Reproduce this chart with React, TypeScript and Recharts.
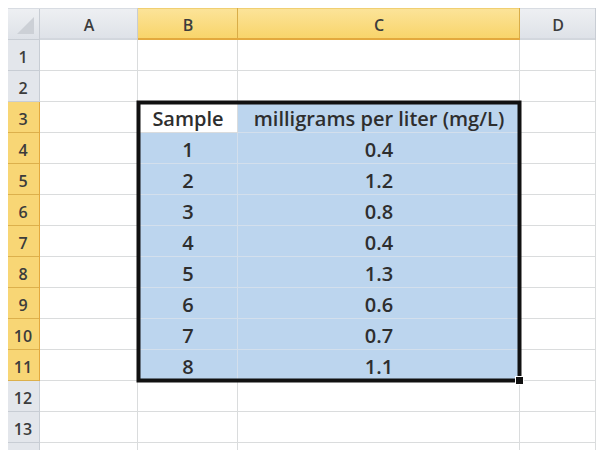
import React from 'react';
import { ComposedChart, Bar, XAxis, YAxis, ReferenceArea } from 'recharts';

// ---- data ----
const rowNumbers = ['1', '2', '3', '4', '5', '6', '7', '8', '9', '10', '11', '12', '13', '14'];
const columnLetters = ['A', 'B', 'C', 'D'];
const tableHeaders = ['Sample', 'milligrams per liter (mg/L)'];
const samples = [1, 2, 3, 4, 5, 6, 7, 8];
const concentrations = [0.4, 1.2, 0.8, 0.4, 1.3, 0.6, 0.7, 1.1];
const selectedColumns = ['B', 'C'];
const tableStartRow = 3;
const lastLabelledRow = 13;

// ---- layout ----
const COL_WIDTH: Record<string, number> = { A: 98, B: 100, C: 282, D: 76 };
const ROW_H = 31;
const HEAD_H = 32;
const HEAD_W = 32;
const MARGIN = 8;
const TOTAL_W = columnLetters.reduce((s, c) => s + COL_WIDTH[c], 0);
const CHART_W = MARGIN + HEAD_W + TOTAL_W;
const CHART_H = MARGIN + HEAD_H + rowNumbers.length * ROW_H;
const tableEndRow = tableStartRow + samples.length;

const columnCenters: number[] = [];
{
  let acc = 0;
  columnLetters.forEach((c) => {
    columnCenters.push(acc + COL_WIDTH[c] / 2);
    acc += COL_WIDTH[c];
  });
}

// ---- styles ----
const FONT = '"Open Sans", "DejaVu Sans", sans-serif';
const BLUE = '#bcd5ee';
const GRID = '#dadcdd';
const GRID_SEL = '#d3dfec';
const TEXT = '#2e2e2e';
const HEAD_TEXT = '#3c3c3c';

type Row = {
  row: string;
  n: number;
  A: number;
  B: number;
  C: number;
  D: number;
  textB: string;
  textC: string;
};

const rows: Row[] = rowNumbers.map((r) => {
  const n = Number(r);
  let textB = '';
  let textC = '';
  if (n === tableStartRow) {
    textB = tableHeaders[0];
    textC = tableHeaders[1];
  } else {
    const i = n - tableStartRow - 1;
    if (i >= 0 && i < samples.length) {
      textB = String(samples[i]);
      textC = concentrations[i].toFixed(1);
    }
  }
  return { row: r, n, A: COL_WIDTH.A, B: COL_WIDTH.B, C: COL_WIDTH.C, D: COL_WIDTH.D, textB, textC };
});

const isSelectedRow = (n: number) => n >= tableStartRow && n <= tableEndRow;

const makeCell = (col: string) => (props: any) => {
  const { x, y, width, height, payload } = props;
  const n: number = payload.n;
  const inSel = selectedColumns.includes(col) && isSelectedRow(n);
  const active = col === 'B' && n === tableStartRow;
  const blue = inSel && !active;
  const text = col === 'B' ? payload.textB : col === 'C' ? payload.textC : '';
  const lineColor = blue ? GRID_SEL : GRID;
  return (
    <g>
      {blue && <rect x={x} y={y} width={width} height={height} fill={BLUE} />}
      <line x1={x + width - 0.5} y1={y} x2={x + width - 0.5} y2={y + height} stroke={lineColor} strokeWidth={1} />
      <line x1={x} y1={y + height - 0.5} x2={x + width} y2={y + height - 0.5} stroke={lineColor} strokeWidth={1} />
      {text && (
        <text
          x={x + width / 2}
          y={y + height / 2 + 1}
          textAnchor="middle"
          dominantBaseline="central"
          fontFamily={FONT}
          fontSize={20}
          fontWeight={600}
          fill={TEXT}
        >
          {text}
        </text>
      )}
    </g>
  );
};

const ColumnHeaderTick = (props: any) => {
  const { x, y, index } = props;
  const letter = columnLetters[index];
  const w = COL_WIDTH[letter];
  const sel = selectedColumns.includes(letter);
  const left = x - w / 2;
  const top = y - HEAD_H;
  return (
    <g>
      <defs>
        <linearGradient id="hdrGray" x1="0" y1="0" x2="0" y2="1">
          <stop offset="0%" stopColor="#eef0f3" />
          <stop offset="100%" stopColor="#dde1e7" />
        </linearGradient>
        <linearGradient id="hdrGold" x1="0" y1="0" x2="0" y2="1">
          <stop offset="0%" stopColor="#fce49a" />
          <stop offset="100%" stopColor="#f8d468" />
        </linearGradient>
      </defs>
      {index === 0 && (
        <g>
          <rect x={left - HEAD_W} y={top} width={HEAD_W} height={HEAD_H} fill="url(#hdrGray)" />
          <polygon
            points={`${left - 6},${top + 9} ${left - 6},${top + HEAD_H - 6} ${left - 23},${top + HEAD_H - 6}`}
            fill="#ccd0d6"
          />
          <line x1={left - 0.5} y1={top} x2={left - 0.5} y2={top + HEAD_H} stroke="#c8cdd4" />
          <line x1={left - HEAD_W} y1={top + HEAD_H - 0.5} x2={left} y2={top + HEAD_H - 0.5} stroke="#c8cdd4" />
          <line x1={left - HEAD_W} y1={top + 0.5} x2={left} y2={top + 0.5} stroke="#d8dce2" />
        </g>
      )}
      <rect x={left} y={top} width={w} height={HEAD_H} fill={sel ? 'url(#hdrGold)' : 'url(#hdrGray)'} />
      <line x1={left} y1={top + 0.5} x2={left + w} y2={top + 0.5} stroke={sel ? '#f0cf72' : '#d8dce2'} />
      <line x1={left + w - 0.5} y1={top} x2={left + w - 0.5} y2={top + HEAD_H} stroke={sel ? '#d9ad48' : '#c8cdd4'} />
      <line
        x1={left}
        y1={top + HEAD_H - 1}
        x2={left + w}
        y2={top + HEAD_H - 1}
        stroke={sel ? '#e3a93e' : '#c8cdd4'}
        strokeWidth={sel ? 2 : 1}
      />
      <text
        x={x}
        y={top + HEAD_H / 2 + 1}
        textAnchor="middle"
        dominantBaseline="central"
        fontFamily={FONT}
        fontSize={16}
        fontWeight={600}
        fill={HEAD_TEXT}
      >
        {letter}
      </text>
    </g>
  );
};

const RowHeaderTick = (props: any) => {
  const { x, y, payload } = props;
  const n = Number(payload.value);
  const sel = isSelectedRow(n);
  const right = x;
  const left = right - HEAD_W;
  const top = y - ROW_H / 2;
  return (
    <g>
      <rect x={left} y={top} width={HEAD_W} height={ROW_H} fill={sel ? '#f8d675' : '#e3e6eb'} />
      <line x1={left} y1={top + ROW_H - 0.5} x2={right} y2={top + ROW_H - 0.5} stroke={sel ? '#dcb04c' : '#c8cdd4'} />
      <line x1={right - 0.5} y1={top} x2={right - 0.5} y2={top + ROW_H} stroke={sel ? '#e3a93e' : '#c8cdd4'} />
      {n <= lastLabelledRow && (
        <text
          x={left + HEAD_W / 2 - 1}
          y={y + 1}
          textAnchor="middle"
          dominantBaseline="central"
          fontFamily={FONT}
          fontSize={16}
          fontWeight={600}
          fill={HEAD_TEXT}
        >
          {payload.value}
        </text>
      )}
    </g>
  );
};

const SelectionBorder = (props: any) => {
  const { x, y, width, height } = props;
  const hx = x + width;
  const hy = y + height;
  return (
    <g>
      <rect x={x + 0.5} y={y + 0.5} width={width - 1} height={height - 1} fill="none" stroke="#111" strokeWidth={4} />
      <rect x={hx - 4.5} y={hy - 4.5} width={8} height={8} fill="#111" stroke="#fff" strokeWidth={1} />
    </g>
  );
};

export default function App() {
  return (
    <div
      style={{
        position: 'fixed',
        left: 0,
        top: 0,
        width: 596,
        height: 450,
        overflow: 'hidden',
        background: '#fff',
      }}
    >
      <ComposedChart
        width={CHART_W}
        height={CHART_H}
        data={rows}
        layout="vertical"
        margin={{ top: MARGIN, left: MARGIN, right: 0, bottom: 0 }}
        barCategoryGap={0}
        barGap={0}
      >
        <XAxis
          type="number"
          orientation="top"
          domain={[0, TOTAL_W]}
          ticks={columnCenters}
          interval={0}
          height={HEAD_H}
          tickSize={0}
          tickMargin={0}
          axisLine={false}
          tickLine={false}
          tick={<ColumnHeaderTick />}
        />
        <YAxis
          type="category"
          dataKey="row"
          width={HEAD_W}
          interval={0}
          tickSize={0}
          tickMargin={0}
          axisLine={false}
          tickLine={false}
          tick={<RowHeaderTick />}
        />
        {columnLetters.map((c) => (
          <Bar key={c} dataKey={c} stackId="cells" isAnimationActive={false} shape={makeCell(c)} />
        ))}
        <ReferenceArea
          {...({ zIndex: 1500 } as any)}
          x1={COL_WIDTH.A}
          x2={COL_WIDTH.A + COL_WIDTH.B + COL_WIDTH.C}
          y1={String(tableStartRow)}
          y2={String(tableEndRow)}
          ifOverflow="visible"
          shape={<SelectionBorder />}
        />
      </ComposedChart>
    </div>
  );
}
